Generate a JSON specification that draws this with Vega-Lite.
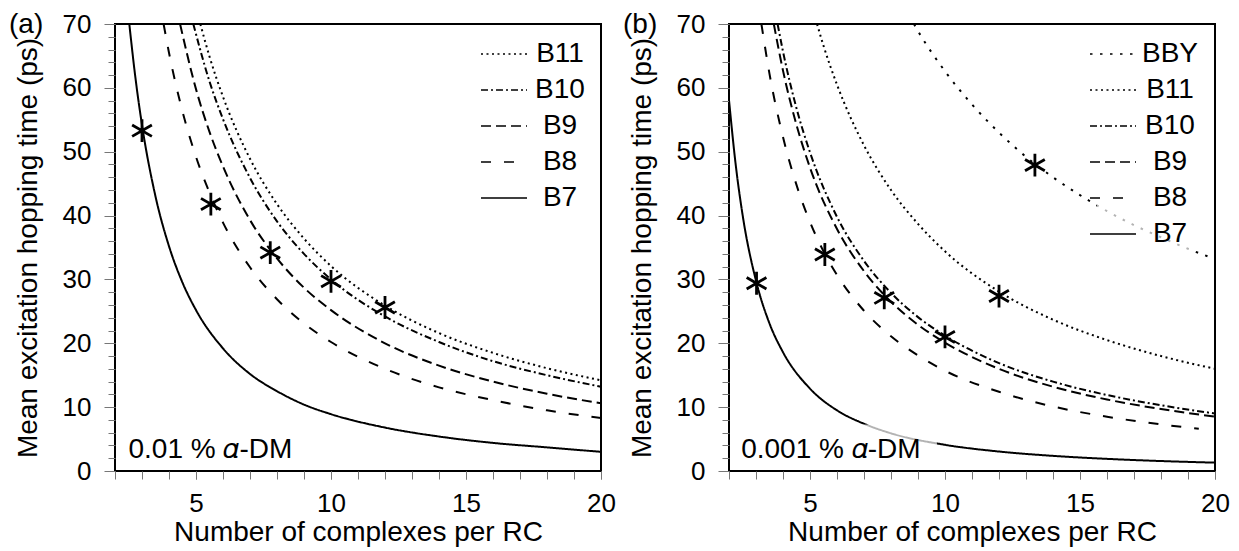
{
  "$schema": "https://vega.github.io/schema/vega-lite/v6.json",
  "background": "white",
  "padding": {"left": 8, "top": 10, "right": 5, "bottom": 5},
  "autosize": {"type": "pad"},
  "config": {
    "font": "Liberation Sans",
    "view": {"stroke": "black", "strokeWidth": 2},
    "text": {"color": "black"}
  },
  "datasets": {
    "la": [
      {"s":"B7","N":2.53,"t":70},{"s":"B7","N":2.75,"t":61.8},{"s":"B7","N":3,"t":54.2},{"s":"B7","N":3.5,"t":43.0},{"s":"B7","N":4,"t":35.2},{"s":"B7","N":4.5,"t":29.5},{"s":"B7","N":5,"t":25.2},{"s":"B7","N":6,"t":19.2},{"s":"B7","N":7,"t":15.2},{"s":"B7","N":8,"t":12.5},{"s":"B7","N":9,"t":10.4},{"s":"B7","N":10,"t":8.9},{"s":"B7","N":12,"t":6.8},{"s":"B7","N":14,"t":5.4},{"s":"B7","N":16,"t":4.4},{"s":"B7","N":18,"t":3.7},{"s":"B7","N":20,"t":3.0},
      {"s":"B8","N":3.8,"t":70},{"s":"B8","N":4,"t":65.5},{"s":"B8","N":4.5,"t":56.3},{"s":"B8","N":5,"t":49.2},{"s":"B8","N":5.5,"t":43.6},{"s":"B8","N":6,"t":38.9},{"s":"B8","N":7,"t":31.9},{"s":"B8","N":8,"t":26.9},{"s":"B8","N":9,"t":23.1},{"s":"B8","N":10,"t":20.2},{"s":"B8","N":12,"t":16.0},{"s":"B8","N":14,"t":13.1},{"s":"B8","N":16,"t":11.1},{"s":"B8","N":18,"t":9.5},{"s":"B8","N":20,"t":8.3},
      {"s":"B9","N":4.41,"t":70},{"s":"B9","N":5,"t":59.8},{"s":"B9","N":5.5,"t":53.1},{"s":"B9","N":6,"t":47.7},{"s":"B9","N":7,"t":39.3},{"s":"B9","N":8,"t":33.3},{"s":"B9","N":9,"t":28.7},{"s":"B9","N":10,"t":25.2},{"s":"B9","N":12,"t":20.0},{"s":"B9","N":14,"t":16.5},{"s":"B9","N":16,"t":14.0},{"s":"B9","N":18,"t":12.1},{"s":"B9","N":20,"t":10.6},
      {"s":"B10","N":4.9,"t":70},{"s":"B10","N":5.5,"t":61.0},{"s":"B10","N":6,"t":55.1},{"s":"B10","N":7,"t":45.9},{"s":"B10","N":8,"t":39.1},{"s":"B10","N":9,"t":34.0},{"s":"B10","N":10,"t":30.0},{"s":"B10","N":12,"t":24.2},{"s":"B10","N":14,"t":20.2},{"s":"B10","N":16,"t":17.2},{"s":"B10","N":18,"t":15.0},{"s":"B10","N":20,"t":13.2},
      {"s":"B11","N":5.16,"t":70},{"s":"B11","N":5.5,"t":64.9},{"s":"B11","N":6,"t":58.6},{"s":"B11","N":7,"t":48.9},{"s":"B11","N":8,"t":41.8},{"s":"B11","N":9,"t":36.4},{"s":"B11","N":10,"t":32.1},{"s":"B11","N":12,"t":25.9},{"s":"B11","N":14,"t":21.6},{"s":"B11","N":16,"t":18.5},{"s":"B11","N":18,"t":16.1},{"s":"B11","N":20,"t":14.2}
    ],
    "lb": [
      {"s":"B7","N":2,"t":58.1},{"s":"B7","N":2.25,"t":47.9},{"s":"B7","N":2.5,"t":40.2},{"s":"B7","N":3,"t":29.8},{"s":"B7","N":3.5,"t":23.1},{"s":"B7","N":4,"t":18.6},{"s":"B7","N":5,"t":12.9},{"s":"B7","N":6,"t":9.5},{"s":"B7","N":7,"t":7.4},{"s":"B7","N":8,"t":5.9},{"s":"B7","N":10,"t":4.1},{"s":"B7","N":12,"t":3.05},{"s":"B7","N":14,"t":2.37},{"s":"B7","N":16,"t":1.9},{"s":"B7","N":18,"t":1.56},{"s":"B7","N":20,"t":1.31},
      {"s":"B8","N":3.2,"t":70},{"s":"B8","N":3.5,"t":62.2},{"s":"B8","N":4,"t":52.3},{"s":"B8","N":4.5,"t":44.8},{"s":"B8","N":5,"t":39.0},{"s":"B8","N":5.5,"t":34.4},{"s":"B8","N":6,"t":30.7},{"s":"B8","N":7,"t":25.1},{"s":"B8","N":8,"t":21.1},{"s":"B8","N":9,"t":18.1},{"s":"B8","N":10,"t":15.7},{"s":"B8","N":12,"t":12.4},{"s":"B8","N":14,"t":10.1},{"s":"B8","N":16,"t":8.5},{"s":"B8","N":18,"t":7.3},{"s":"B8","N":19.4,"t":6.6},
      {"s":"B9","N":3.66,"t":70},{"s":"B9","N":4,"t":62.7},{"s":"B9","N":4.5,"t":54.2},{"s":"B9","N":5,"t":47.5},{"s":"B9","N":6,"t":37.9},{"s":"B9","N":7,"t":31.3},{"s":"B9","N":8,"t":26.5},{"s":"B9","N":9,"t":22.9},{"s":"B9","N":10,"t":20.1},{"s":"B9","N":12,"t":16.0},{"s":"B9","N":14,"t":13.2},{"s":"B9","N":16,"t":11.2},{"s":"B9","N":18,"t":9.7},{"s":"B9","N":20,"t":8.5},
      {"s":"B10","N":3.8,"t":70},{"s":"B10","N":4,"t":65.7},{"s":"B10","N":4.5,"t":56.8},{"s":"B10","N":5,"t":49.9},{"s":"B10","N":6,"t":39.8},{"s":"B10","N":7,"t":32.9},{"s":"B10","N":8,"t":27.9},{"s":"B10","N":9,"t":24.1},{"s":"B10","N":10,"t":21.2},{"s":"B10","N":12,"t":16.9},{"s":"B10","N":14,"t":14.0},{"s":"B10","N":16,"t":11.9},{"s":"B10","N":18,"t":10.3},{"s":"B10","N":20,"t":9.0},
      {"s":"B11","N":5.26,"t":70},{"s":"B11","N":5.5,"t":66.6},{"s":"B11","N":6,"t":60.5},{"s":"B11","N":7,"t":51.0},{"s":"B11","N":8,"t":44.0},{"s":"B11","N":9,"t":38.7},{"s":"B11","N":10,"t":34.4},{"s":"B11","N":12,"t":28.1},{"s":"B11","N":14,"t":23.7},{"s":"B11","N":16,"t":20.5},{"s":"B11","N":18,"t":18.0},{"s":"B11","N":20,"t":16.0},
      {"s":"BBY","N":8.85,"t":70},{"s":"BBY","N":9,"t":68.9},{"s":"BBY","N":10,"t":62.6},{"s":"BBY","N":11,"t":57.4},{"s":"BBY","N":12,"t":53.0},{"s":"BBY","N":13,"t":49.2},{"s":"BBY","N":14,"t":46.0},{"s":"BBY","N":15,"t":43.2},{"s":"BBY","N":16,"t":40.7},{"s":"BBY","N":17,"t":38.5},{"s":"BBY","N":18,"t":36.6},{"s":"BBY","N":19,"t":34.8},{"s":"BBY","N":20,"t":33.2}
    ],
    "sa": [{"N":3.0,"t":53.3},{"N":5.55,"t":41.8},{"N":7.75,"t":34.2},{"N":10.0,"t":29.7},{"N":12.0,"t":25.6}],
    "sb": [{"N":3.02,"t":29.4},{"N":5.55,"t":33.9},{"N":7.75,"t":27.1},{"N":10.0,"t":21.0},{"N":12.0,"t":27.4},{"N":13.33,"t":47.9}]
  },
  "bounds": "flush",
  "spacing": 128,
  "resolve": {"scale": {"strokeDash": "independent"}, "legend": {"strokeDash": "independent"}},
  "hconcat": [
    {
      "width": 486, "height": 447,
      "title": {"text": "(a)", "anchor": "start", "frame": "group", "orient": "top", "baseline": "alphabetic", "offset": 0, "dx": -106, "dy": 50, "fontSize": 28, "fontWeight": "normal", "font": "Liberation Sans", "color": "black"},
      "resolve": {"axis": {"x": "independent", "y": "independent"}},
      "layer": [
        {
          "data": {"name": "la"},
          "mark": {"type": "line", "color": "black", "strokeWidth": 2, "interpolate": "monotone", "clip": true},
          "encoding": {
            "x": {"field": "N", "type": "quantitative", "scale": {"domain": [2, 20], "nice": false, "zero": false},
              "axis": {"orient": "bottom", "title": "Number of complexes per RC", "values": [5, 10, 15, 20], "tickSize": 8, "tickColor": "#777", "domain": false, "grid": false, "labelFontSize": 26, "labelPadding": 11, "labelFlush": false, "labelOverlap": false, "labelColor": "black", "titleFontSize": 28, "titlePadding": 2, "titleFontWeight": "normal", "titleColor": "black"}},
            "y": {"field": "t", "type": "quantitative", "scale": {"domain": [0, 70], "nice": false},
              "axis": {"orient": "left", "title": "Mean excitation hopping time (ps)", "values": [0, 10, 20, 30, 40, 50, 60, 70], "tickSize": 11, "tickColor": "#777", "domain": false, "grid": false, "labelFontSize": 26, "labelPadding": 13, "labelOverlap": false, "labelColor": "black", "titleFontSize": 28, "titlePadding": 20, "titleFontWeight": "normal", "titleColor": "black"}},
            "strokeDash": {"field": "s", "type": "nominal",
              "scale": {"domain": ["B11", "B10", "B9", "B8", "B7"], "range": [[2, 3.5], [7, 3, 2, 3], [10, 5], [10, 13], [1, 0]]},
              "legend": {"title": null, "orient": "top-right", "offset": 14, "padding": 2, "symbolType": "M-2,0H2", "symbolSize": 529, "symbolStrokeWidth": 1.5, "symbolStrokeColor": "black", "symbolFillColor": "transparent", "labelFontSize": 28, "labelFont": "Liberation Sans", "labelColor": "black", "labelAlign": "center", "labelOffset": 42, "rowPadding": 8, "fillColor": "rgba(255,255,255,0.7)"}}
          }
        },
        {
          "data": {"name": "sa"},
          "mark": {"type": "point", "shape": "M0,-1L0,1M-0.866,-0.5L0.866,0.5M-0.866,0.5L0.866,-0.5", "filled": false, "stroke": "black", "strokeWidth": 2.8, "size": 520, "opacity": 1},
          "encoding": {
            "x": {"field": "N", "type": "quantitative", "axis": {"orient": "bottom", "title": null, "labels": false, "values": [2,3,4,5,6,7,8,9,10,11,12,13,14,15,16,17,18,19,20], "tickSize": 8, "tickColor": "#777", "domain": false, "grid": false}},
            "y": {"field": "t", "type": "quantitative", "axis": {"orient": "left", "title": null, "labels": false, "values": [0,2,4,6,8,10,12,14,16,18,20,22,24,26,28,30,32,34,36,38,40,42,44,46,48,50,52,54,56,58,60,62,64,66,68,70], "tickSize": 7, "tickColor": "#777", "domain": false, "grid": false}}
          }
        },
        {
          "data": {"values": [{}]},
          "mark": {"type": "text", "text": "0.01 % 𝛼-DM", "align": "left", "baseline": "alphabetic", "fontSize": 28, "font": "Liberation Sans", "color": "black"},
          "encoding": {"x": {"datum": 2.5, "type": "quantitative", "axis": null}, "y": {"datum": 2.0, "type": "quantitative", "axis": null}}
        }
      ]
    },
    {
      "width": 486, "height": 447,
      "title": {"text": "(b)", "anchor": "start", "frame": "group", "orient": "top", "baseline": "alphabetic", "offset": 0, "dx": -106, "dy": 50, "fontSize": 28, "fontWeight": "normal", "font": "Liberation Sans", "color": "black"},
      "resolve": {"axis": {"x": "independent", "y": "independent"}},
      "layer": [
        {
          "data": {"name": "lb"},
          "mark": {"type": "line", "color": "black", "strokeWidth": 2, "interpolate": "monotone", "clip": true},
          "encoding": {
            "x": {"field": "N", "type": "quantitative", "scale": {"domain": [2, 20], "nice": false, "zero": false},
              "axis": {"orient": "bottom", "title": "Number of complexes per RC", "values": [5, 10, 15, 20], "tickSize": 8, "tickColor": "#777", "domain": false, "grid": false, "labelFontSize": 26, "labelPadding": 11, "labelFlush": false, "labelOverlap": false, "labelColor": "black", "titleFontSize": 28, "titlePadding": 2, "titleFontWeight": "normal", "titleColor": "black"}},
            "y": {"field": "t", "type": "quantitative", "scale": {"domain": [0, 70], "nice": false},
              "axis": {"orient": "left", "title": "Mean excitation hopping time (ps)", "values": [0, 10, 20, 30, 40, 50, 60, 70], "tickSize": 11, "tickColor": "#777", "domain": false, "grid": false, "labelFontSize": 26, "labelPadding": 13, "labelOverlap": false, "labelColor": "black", "titleFontSize": 28, "titlePadding": 20, "titleFontWeight": "normal", "titleColor": "black"}},
            "strokeDash": {"field": "s", "type": "nominal",
              "scale": {"domain": ["BBY", "B11", "B10", "B9", "B8", "B7"], "range": [[2.5, 7.5], [2, 3.5], [7, 3, 2, 3], [10, 5], [10, 13], [1, 0]]},
              "legend": {"title": null, "orient": "top-right", "offset": 14, "padding": 2, "symbolType": "M-2,0H2", "symbolSize": 529, "symbolStrokeWidth": 1.5, "symbolStrokeColor": "black", "symbolFillColor": "transparent", "labelFontSize": 28, "labelFont": "Liberation Sans", "labelColor": "black", "labelAlign": "center", "labelOffset": 43, "rowPadding": 8, "fillColor": "rgba(255,255,255,0.7)"}}
          }
        },
        {
          "data": {"name": "sb"},
          "mark": {"type": "point", "shape": "M0,-1L0,1M-0.866,-0.5L0.866,0.5M-0.866,0.5L0.866,-0.5", "filled": false, "stroke": "black", "strokeWidth": 2.8, "size": 520, "opacity": 1},
          "encoding": {
            "x": {"field": "N", "type": "quantitative", "axis": {"orient": "bottom", "title": null, "labels": false, "values": [2,3,4,5,6,7,8,9,10,11,12,13,14,15,16,17,18,19,20], "tickSize": 8, "tickColor": "#777", "domain": false, "grid": false}},
            "y": {"field": "t", "type": "quantitative", "axis": {"orient": "left", "title": null, "labels": false, "values": [0,2,4,6,8,10,12,14,16,18,20,22,24,26,28,30,32,34,36,38,40,42,44,46,48,50,52,54,56,58,60,62,64,66,68,70], "tickSize": 7, "tickColor": "#777", "domain": false, "grid": false}}
          }
        },
        {
          "data": {"values": [{}]},
          "mark": {"type": "rect", "fill": "white", "opacity": 0.7},
          "encoding": {"x": {"datum": 2.3, "type": "quantitative", "axis": null}, "x2": {"datum": 9.7}, "y": {"datum": 0.4, "type": "quantitative", "axis": null}, "y2": {"datum": 7.3}}
        },
        {
          "data": {"values": [{}]},
          "mark": {"type": "text", "text": "0.001 % 𝛼-DM", "align": "left", "baseline": "alphabetic", "fontSize": 28, "font": "Liberation Sans", "color": "black"},
          "encoding": {"x": {"datum": 2.45, "type": "quantitative", "axis": null}, "y": {"datum": 2.0, "type": "quantitative", "axis": null}}
        }
      ]
    }
  ]
}
